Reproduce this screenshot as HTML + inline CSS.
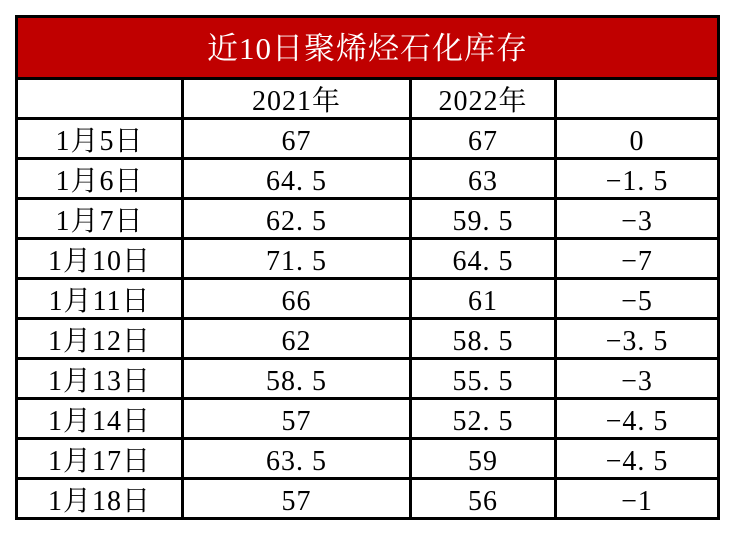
<!DOCTYPE html>
<html><head><meta charset="utf-8"><style>
body{margin:0;width:736px;height:536px;background:#fff;position:relative;overflow:hidden;font-family:"Liberation Serif","Noto Serif CJK SC",serif;}
.h{position:absolute;left:15px;width:705px;height:3px;background:#000}
.v{position:absolute;top:77px;width:3px;height:443px;background:#000}
.t{position:absolute;height:37px;line-height:44px;text-align:center;font-size:28px;color:#000;letter-spacing:1px}
</style></head><body>
<div style="position:absolute;left:15px;top:15px;width:705px;height:65px;background:#c00000"></div>
<div style="position:absolute;left:15px;top:18px;width:705px;height:59px;line-height:62px;text-align:center;color:#fff;font-size:31px;letter-spacing:1px;font-family:'Liberation Serif','Noto Serif CJK SC',serif">近10日聚烯烃石化库存</div>
<div class="h" style="top:15px"></div>
<div style="position:absolute;left:15px;top:15px;width:3px;height:505px;background:#000"></div>
<div style="position:absolute;left:717px;top:15px;width:3px;height:505px;background:#000"></div>
<div class="h" style="top:77px"></div>
<div class="h" style="top:117px"></div>
<div class="h" style="top:157px"></div>
<div class="h" style="top:197px"></div>
<div class="h" style="top:237px"></div>
<div class="h" style="top:277px"></div>
<div class="h" style="top:317px"></div>
<div class="h" style="top:357px"></div>
<div class="h" style="top:397px"></div>
<div class="h" style="top:437px"></div>
<div class="h" style="top:477px"></div>
<div class="h" style="top:517px"></div>
<div class="v" style="left:181px"></div>
<div class="v" style="left:409px"></div>
<div class="v" style="left:554px"></div>
<div id="c"></div>
<script>
var rows=[["","2021年","2022年",""],["1月5日","67","67","0"],["1月6日","64. 5","63","−1. 5"],["1月7日","62. 5","59. 5","−3"],["1月10日","71. 5","64. 5","−7"],["1月11日","66","61","−5"],["1月12日","62","58. 5","−3. 5"],["1月13日","58. 5","55. 5","−3"],["1月14日","57","52. 5","−4. 5"],["1月17日","63. 5","59","−4. 5"],["1月18日","57","56","−1"]];
var xs=[[18,181],[184,409],[412,554],[557,717]];
var h="";
rows.forEach(function(r,i){var y=80+i*40;r.forEach(function(s,j){h+='<div class="t" style="left:'+xs[j][0]+'px;width:'+(xs[j][1]-xs[j][0])+'px;top:'+y+'px">'+s+'</div>';});});
document.getElementById("c").innerHTML=h;
</script>
</body></html>
